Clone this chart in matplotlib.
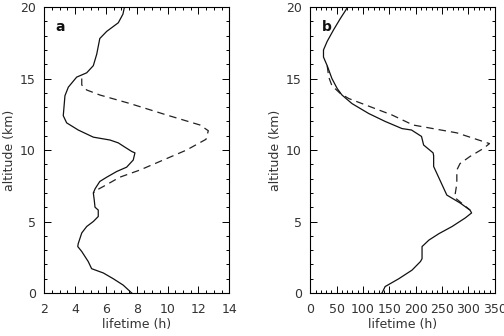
import numpy as np
import matplotlib
matplotlib.use("Agg")
import matplotlib.pyplot as plt
from matplotlib.ticker import MultipleLocator

# panel a: lifetime (h) vs altitude (km)
a_solid_x = [7.2, 7.1, 6.8, 6.05, 5.6, 5.4, 5.18, 4.75, 4.1, 3.56, 3.34, 3.23, 3.45, 4.2, 5.18,
             6.26, 6.8, 7.23, 7.67, 7.88, 7.77, 7.34, 6.7, 6.05, 5.6, 5.3, 5.18, 5.24, 5.29,
             5.5, 5.5, 5.18, 4.75, 4.43, 4.2, 4.17, 4.43, 4.85, 5.07, 5.83, 6.47, 7.12, 7.67]
a_solid_y = [20.0, 19.5, 18.9, 18.3, 17.8, 16.7, 15.9, 15.4, 15.1, 14.4, 13.8, 12.4, 11.9, 11.4, 10.9,
             10.7, 10.5, 10.2, 9.9, 9.8, 9.3, 8.8, 8.5, 8.1, 7.8, 7.3, 7.0, 6.5, 6.0,
             5.8, 5.35, 5.0, 4.65, 4.2, 3.45, 3.25, 2.9, 2.2, 1.7, 1.4, 1.0, 0.55, 0.0]
a_dash_x = [4.43, 4.43, 4.75, 5.6, 7.56, 9.94, 12.1, 12.64, 12.49, 11.23, 9.5, 8.2, 6.9, 5.83, 5.4, 5.2]
a_dash_y = [15.0, 14.55, 14.2, 13.85, 13.25, 12.45, 11.75, 11.35, 10.75, 10.0, 9.2, 8.6, 8.1, 7.45, 7.2, 7.0]

# panel b
b_solid_x = [71, 57, 44, 32, 25, 25, 32, 41, 51, 60, 79, 111, 142, 174, 192, 211, 215, 233, 234,
             234, 259, 284, 303, 306, 294, 269, 244, 225, 215, 212, 212, 209, 193, 168, 142, 136]
b_solid_y = [20.0, 19.2, 18.4, 17.6, 17.0, 16.5, 15.9, 15.0, 14.3, 13.85, 13.25, 12.55, 12.0, 11.5, 11.4, 10.95,
             10.35, 9.8, 9.6, 8.85, 6.85, 6.3, 5.8, 5.6, 5.25, 4.65, 4.15, 3.7, 3.35, 3.25, 2.4, 2.2,
             1.6, 1.0, 0.45, 0.0]
b_dash_x = [32, 35, 41, 57, 73, 98, 155, 195, 278, 340, 328, 303, 284, 278, 278, 275, 275, 290, 303]
b_dash_y = [15.9, 15.1, 14.5, 13.95, 13.6, 13.25, 12.45, 11.75, 11.2, 10.45, 10.1, 9.55, 9.05, 8.6, 7.65, 6.95, 6.65, 6.2, 5.8]

plt.rcParams['font.family'] = ['DejaVu Sans']
txt = '#333333'

fig = plt.figure(figsize=(5.04, 3.36), dpi=100)
ax1 = fig.add_axes([0.0879, 0.128, 0.367, 0.851])
ax2 = fig.add_axes([0.6157, 0.128, 0.366, 0.851])

for ax, sx, sy, dx, dy, xlim, xmaj, xmin, lab in [
        (ax1, a_solid_x, a_solid_y, a_dash_x, a_dash_y, (2, 14), 2, 0.5, 'a'),
        (ax2, b_solid_x, b_solid_y, b_dash_x, b_dash_y, (0, 350), 50, 10, 'b')]:
    ax.plot(dx, dy, color='#222222', lw=0.9, ls=(0, (6, 4)))
    ax.plot(sx, sy, color='#111111', lw=0.9)
    ax.set_xlim(*xlim)
    ax.set_ylim(0, 20)
    ax.xaxis.set_major_locator(MultipleLocator(xmaj))
    ax.xaxis.set_minor_locator(MultipleLocator(xmin))
    ax.yaxis.set_major_locator(MultipleLocator(5))
    ax.yaxis.set_minor_locator(MultipleLocator(1))
    ax.tick_params(which='both', direction='in', top=True, right=True,
                   labelsize=9, labelcolor=txt, width=0.7)
    ax.tick_params(axis='x', pad=7)
    ax.tick_params(axis='y', pad=6)
    ax.tick_params(which='major', length=5)
    ax.tick_params(which='minor', length=2.5)
    for s in ax.spines.values():
        s.set_linewidth(0.8)
    ax.set_xlabel('lifetime (h)', fontsize=9, color=txt, labelpad=2)
    ax.set_ylabel('altitude (km)', fontsize=9, color=txt, labelpad=3)
    ax.text(0.06, 0.955, lab, transform=ax.transAxes, fontsize=10,
            fontweight='bold', va='top', ha='left', color='#111111')

fig.savefig('out.png', dpi=100)
